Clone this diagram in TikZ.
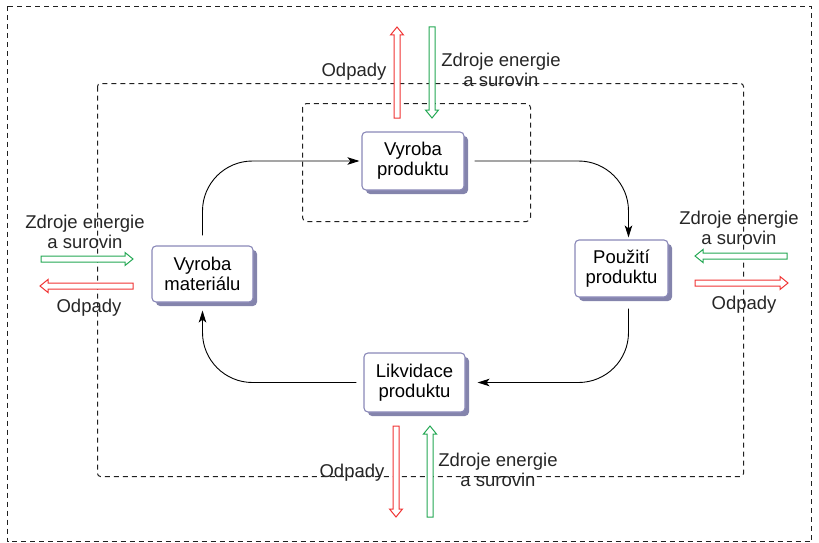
\documentclass[tikz,border=0pt]{standalone}
\usepackage{fontspec}
\setmainfont{Liberation Sans}
\usetikzlibrary{arrows.meta,shadows}
\definecolor{boxborder}{HTML}{8A88B8}
\definecolor{boxshadow}{HTML}{8484AC}
\definecolor{arrred}{HTML}{F03434}
\definecolor{arrgreen}{HTML}{24A854}
\definecolor{dashcol}{HTML}{202020}
\newcommand{\harr}[5]{%
  \begin{scope}[shift={(#2,#3)},rotate=#4]
    \draw[#1, line width=1pt, fill=white, line join=miter]
      (0,-3) -- ({#5-8},-3) -- ({#5-8},-6.5) -- (#5,0) -- ({#5-8},6.5) -- ({#5-8},3) -- (0,3) -- cycle;
  \end{scope}}
\tikzset{
  frame/.style={draw=dashcol, line width=1pt, dash pattern=on 5pt off 4pt},
  procbox/.style={draw=boxborder, line width=1.1pt, fill=white, rounded corners=4pt,
    align=center, inner sep=0pt, font=\fontsize{18.5}{20}\selectfont,
    drop shadow={shadow xshift=4pt, shadow yshift=-4pt, fill=boxshadow, opacity=1}},
  lbl/.style={align=center, inner sep=0pt, font=\fontsize{18.5}{20}\selectfont, text=black!85},
  flow/.style={line width=0.9pt, rounded corners=50pt, -{Stealth[length=12pt,width=7.5pt,inset=3pt]}},
}
\begin{document}
\begin{tikzpicture}[x=1pt,y=-1pt]
\useasboundingbox (0,0) rectangle (819,543);
% frames
\draw[frame] (7.5,6.5) rectangle (811.5,541.5);
\draw[frame, rounded corners=3pt] (97.5,83.5) rectangle (743.5,476.5);
\draw[frame, rounded corners=4pt] (302.5,103.5) rectangle (530.5,221.5);
% boxes
\node[procbox, minimum width=102pt, minimum height=58pt] (vp) at (413,161) {Vyroba\\produktu};
\node[procbox, minimum width=101pt, minimum height=56pt] (vm) at (202.5,274) {Vyroba\\materiálu};
\node[procbox, minimum width=93pt, minimum height=57pt] (pu) at (621.5,268.5) {Použití\\produktu};
\node[procbox, minimum width=101pt, minimum height=59pt] (lk) at (414.5,382.5) {Likvidace\\produktu};
% cycle connectors
\draw[flow, shorten <=10pt, shorten >=2pt] (vm.north) |- (vp.west);
\draw[flow, shorten <=10pt, shorten >=2pt] (vp.east) -| ([xshift=7pt]pu.north);
\draw[flow, shorten <=11pt, shorten >=12pt] ([xshift=7pt]pu.south) |- (lk.east);
\draw[flow, shorten <=7pt, shorten >=8pt] (lk.west) -| (vm.south);
% hollow arrows
\harr{arrred}{397}{118}{90}{91}
\harr{arrgreen}{432}{27}{-90}{91}
\harr{arrgreen}{41}{259}{0}{92}
\harr{arrred}{133}{286}{180}{93}
\harr{arrgreen}{787}{256}{180}{92}
\harr{arrred}{695}{283}{0}{93}
\harr{arrred}{396}{426}{-90}{91}
\harr{arrgreen}{430}{517}{90}{91}
% labels
\node[lbl] (o1) at (354,72) {Odpady};
\node[lbl] (z1) at (501,70) {Zdroje energie\\a surovin};
\node[lbl] (z2) at (85,232) {Zdroje energie\\a surovin};
\node[lbl] (o2) at (89,308) {Odpady};
\node[lbl] (z3) at (739,228) {Zdroje energie\\a surovin};
\node[lbl] (o3) at (744,305) {Odpady};
\node[lbl] (o4) at (352,473) {Odpady};
\node[lbl] (z4) at (498,470) {Zdroje energie\\a surovin};
\end{tikzpicture}
\end{document}
